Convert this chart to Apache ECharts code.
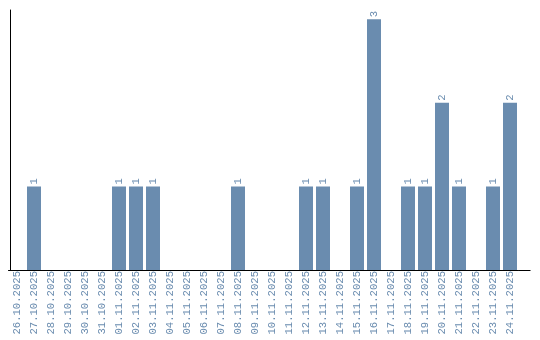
<!DOCTYPE html>
<html><head><meta charset="utf-8">
<script src="https://cdn.jsdelivr.net/npm/echarts@6/dist/echarts.min.js"></script>
<style>html,body{margin:0;padding:0;background:#fff}#c{width:540px;height:340px}</style>
</head><body><div id="c"></div>
<script>
const categories = ["26.10.2025","27.10.2025","28.10.2025","29.10.2025","30.10.2025","31.10.2025","01.11.2025","02.11.2025","03.11.2025","04.11.2025","05.11.2025","06.11.2025","07.11.2025","08.11.2025","09.11.2025","10.11.2025","11.11.2025","12.11.2025","13.11.2025","14.11.2025","15.11.2025","16.11.2025","17.11.2025","18.11.2025","19.11.2025","20.11.2025","21.11.2025","22.11.2025","23.11.2025","24.11.2025"];
const counts = [0,1,0,0,0,0,1,1,1,0,0,0,0,1,0,0,0,1,1,0,1,3,0,1,1,2,1,0,1,2];

const chart = echarts.init(document.getElementById('c'), null, {renderer:'canvas'});
const barColor = '#6a8caf';
const font = 'Liberation Mono';
chart.setOption({
  animation: false,
  grid: {left: 8.5, width: 510, top: 10, bottom: 70, containLabel: false, outerBoundsMode: 'none'},
  xAxis: {
    type: 'category', data: categories,
    axisLine: {lineStyle: {color: '#000', width: 1}},
    axisTick: {show: false},
    axisLabel: {rotate: 90, interval: 0, color: barColor, fontFamily: font, fontSize: 10.6, margin: 1}
  },
  yAxis: {
    type: 'value', min: 0, max: 3.11, offset: -2,
    axisLine: {show: true, lineStyle: {color: '#000', width: 1}},
    axisTick: {show: false}, axisLabel: {show: false}, splitLine: {show: false}
  },
  graphic: [{
    type: 'line', shape: {x1: 518.5, y1: 270.5, x2: 530.5, y2: 270.5},
    style: {stroke: '#000', lineWidth: 1}
  }],
  series: [{
    type: 'bar', data: counts.map(v => v === 0 ? null : v), barWidth: 14,
    itemStyle: {color: barColor},
    label: {show: true, position: 'top', rotate: 90, align: 'left', verticalAlign: 'middle',
      distance: 2, color: barColor, fontFamily: font, fontSize: 10.6}
  }]
});
</script></body></html>
